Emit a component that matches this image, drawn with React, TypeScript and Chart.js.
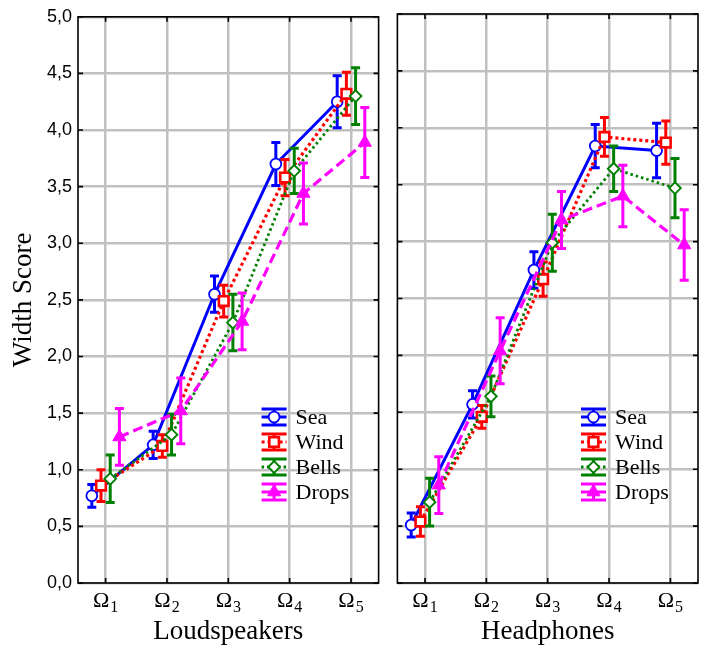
import React, { useEffect, useRef } from 'react';
import { Chart, registerables } from 'chart.js';

Chart.register(...registerables);

// ---------- data ----------
const categories = ['1', '2', '3', '4', '5']; // subscripts of Ω
const seriesNames = ['Sea', 'Wind', 'Bells', 'Drops'];
const yTickValues = [0, 0.5, 1, 1.5, 2, 2.5, 3, 3.5, 4, 4.5, 5];
const panelTitles = ['Loudspeakers', 'Headphones'];
const yTitle = 'Width Score';

const loudSea = [0.77, 1.22, 2.55, 3.7, 4.25];
const loudSeaErr = [0.1, 0.12, 0.16, 0.19, 0.23];
const loudWind = [0.86, 1.21, 2.49, 3.58, 4.32];
const loudWindErr = [0.14, 0.1, 0.14, 0.16, 0.19];
const loudBells = [0.92, 1.31, 2.3, 3.64, 4.3];
const loudBellsErr = [0.21, 0.18, 0.25, 0.2, 0.25];
const loudDrops = [1.29, 1.52, 2.31, 3.44, 3.89];
const loudDropsErr = [0.25, 0.29, 0.25, 0.27, 0.31];

const headSea = [0.51, 1.57, 2.75, 3.84, 3.8];
const headSeaErr = [0.105, 0.12, 0.16, 0.19, 0.24];
const headWind = [0.54, 1.46, 2.67, 3.92, 3.87];
const headWindErr = [0.13, 0.1, 0.15, 0.17, 0.19];
const headBells = [0.71, 1.64, 2.99, 3.64, 3.47];
const headBellsErr = [0.21, 0.18, 0.25, 0.2, 0.26];
const headDrops = [0.86, 2.04, 3.19, 3.4, 2.97];
const headDropsErr = [0.25, 0.29, 0.25, 0.27, 0.31];

// horizontal offset of each series inside a category
const seriesOffsets = [-0.225, -0.075, 0.075, 0.225];

// ---------- styles ----------
type Style = {
  color: string;
  dash: number[];
  lineWidth: number;
  pointStyle: string;
  radius: number;
  fill: string;
  pointBorder: number;
};

const styles: Style[] = [
  { color: '#0000ff', dash: [], lineWidth: 3, pointStyle: 'circle', radius: 5.4, fill: '#ffffff', pointBorder: 1.8 },
  { color: '#ff0000', dash: [3, 3], lineWidth: 3.2, pointStyle: 'rect', radius: 6.8, fill: '#ffffff', pointBorder: 2.6 },
  { color: '#008000', dash: [2.5, 3], lineWidth: 2.8, pointStyle: 'rectRot', radius: 5.8, fill: '#ffffff', pointBorder: 1.9 },
  { color: '#ff00ff', dash: [10, 5], lineWidth: 3.2, pointStyle: 'triangle', radius: 7.6, fill: '#ff00ff', pointBorder: 1 },
];

const SERIF = '"Liberation Serif", "DejaVu Serif", serif';
const SANS = '"Liberation Sans", Arial, sans-serif';
const GRID = '#c0c0c0';

function drawMarker(ctx: CanvasRenderingContext2D, st: Style, x: number, y: number) {
  const r = st.radius;
  ctx.save();
  ctx.setLineDash([]);
  ctx.beginPath();
  if (st.pointStyle === 'circle') {
    ctx.arc(x, y, r, 0, Math.PI * 2);
  } else if (st.pointStyle === 'rect') {
    const s = Math.SQRT1_2 * r;
    ctx.rect(x - s, y - s, 2 * s, 2 * s);
  } else if (st.pointStyle === 'rectRot') {
    ctx.moveTo(x - r, y);
    ctx.lineTo(x, y - r);
    ctx.lineTo(x + r, y);
    ctx.lineTo(x, y + r);
    ctx.closePath();
  } else {
    ctx.moveTo(x, y - r);
    ctx.lineTo(x + 0.866 * r, y + 0.5 * r);
    ctx.lineTo(x - 0.866 * r, y + 0.5 * r);
    ctx.closePath();
  }
  ctx.fillStyle = st.fill;
  ctx.fill();
  ctx.lineWidth = st.pointBorder;
  ctx.strokeStyle = st.color;
  ctx.stroke();
  ctx.restore();
}

function makeConfig(values: number[][], errors: number[][], title: string, isLeft: boolean): any {
  const datasets = values.map((vals, i) => {
    const st = styles[i];
    return {
      label: seriesNames[i],
      data: vals.map((v, j) => ({ x: j + 1 + seriesOffsets[i], y: v })),
      errorBars: errors[i],
      borderColor: st.color,
      backgroundColor: st.fill,
      borderWidth: st.lineWidth,
      borderDash: st.dash,
      pointStyle: st.pointStyle,
      pointRadius: st.radius,
      pointBorderWidth: st.pointBorder,
      pointBackgroundColor: st.fill,
      pointBorderColor: st.color,
      fill: false,
      tension: 0,
      order: 4 - i,
    };
  });

  const errorBarPlugin = {
    id: 'errorBars',
    beforeDatasetDraw(chart: any, args: any) {
      const ctx = chart.ctx;
      const ds = chart.data.datasets[args.index];
      const st = styles[args.index];
      const xs = chart.scales.x;
      const ys = chart.scales.y;
      ctx.save();
      ctx.strokeStyle = st.color;
      ctx.lineWidth = 3;
      ctx.setLineDash([]);
      ds.data.forEach((p: any, j: number) => {
        const e = ds.errorBars[j];
        const px = xs.getPixelForValue(p.x);
        const t = ys.getPixelForValue(p.y + e);
        const b = ys.getPixelForValue(p.y - e);
        ctx.beginPath();
        ctx.moveTo(px, t);
        ctx.lineTo(px, b);
        ctx.moveTo(px - 4.5, t);
        ctx.lineTo(px + 4.5, t);
        ctx.moveTo(px - 4.5, b);
        ctx.lineTo(px + 4.5, b);
        ctx.stroke();
      });
      ctx.restore();
    },
  };

  const framePlugin = {
    id: 'frame',
    beforeDatasetsDraw(chart: any) {
      const ctx = chart.ctx;
      const { left, right, top, bottom } = chart.chartArea;
      const xs = chart.scales.x;
      const ys = chart.scales.y;
      ctx.save();
      ctx.strokeStyle = '#000';
      ctx.lineWidth = 1.6;
      ctx.setLineDash([]);
      ctx.strokeRect(left, top, right - left, bottom - top);
      ctx.beginPath();
      yTickValues.forEach((v) => {
        const py = ys.getPixelForValue(v);
        ctx.moveTo(left, py);
        ctx.lineTo(left + 5, py);
        ctx.moveTo(right, py);
        ctx.lineTo(right - 5, py);
      });
      categories.forEach((_, i) => {
        const px = xs.getPixelForValue(i + 1);
        ctx.moveTo(px, top);
        ctx.lineTo(px, top + 5);
        ctx.moveTo(px, bottom);
        ctx.lineTo(px, bottom - 5);
      });
      ctx.stroke();
      ctx.restore();
    },
    afterDraw(chart: any) {
      const ctx = chart.ctx;
      const { bottom } = chart.chartArea;
      const xs = chart.scales.x;
      ctx.save();
      ctx.fillStyle = '#000';
      ctx.textBaseline = 'alphabetic';
      ctx.textAlign = 'left';
      categories.forEach((c, i) => {
        const px = xs.getPixelForValue(i + 1);
        ctx.font = `22px ${SERIF}`;
        const w1 = ctx.measureText('Ω').width;
        ctx.font = `16px ${SERIF}`;
        const w2 = ctx.measureText(c).width;
        const x0 = px - (w1 + w2 + 1) / 2;
        ctx.font = `22px ${SERIF}`;
        ctx.fillText('Ω', x0, bottom + 24);
        ctx.font = `16px ${SERIF}`;
        ctx.fillText(c, x0 + w1 + 1, bottom + 29);
      });
      ctx.restore();
    },
  };

  const legendPlugin = {
    id: 'customLegend',
    afterDatasetsDraw(chart: any) {
      const ctx = chart.ctx;
      const { right, bottom } = chart.chartArea;
      const gx = right - 117;
      const gw = 25;
      ctx.save();
      seriesNames.forEach((name, i) => {
        const st = styles[i];
        const cy = bottom - 166 + i * 25;
        const cx = gx + gw / 2;
        ctx.strokeStyle = st.color;
        ctx.setLineDash([]);
        ctx.lineWidth = 3;
        ctx.beginPath();
        ctx.moveTo(gx, cy - 8);
        ctx.lineTo(gx + gw, cy - 8);
        ctx.moveTo(gx, cy + 8);
        ctx.lineTo(gx + gw, cy + 8);
        ctx.moveTo(cx, cy - 8);
        ctx.lineTo(cx, cy + 8);
        ctx.stroke();
        ctx.lineWidth = st.lineWidth;
        ctx.setLineDash(st.dash);
        ctx.beginPath();
        ctx.moveTo(gx, cy);
        ctx.lineTo(gx + gw, cy);
        ctx.stroke();
        drawMarker(ctx, st, cx, cy);
        ctx.setLineDash([]);
        ctx.fillStyle = '#000';
        ctx.font = `22px ${SERIF}`;
        ctx.textBaseline = 'middle';
        ctx.textAlign = 'left';
        ctx.fillText(name, gx + 34, cy + 1);
      });
      ctx.restore();
    },
  };

  return {
    type: 'line',
    data: { datasets },
    plugins: [errorBarPlugin, framePlugin, legendPlugin],
    options: {
      responsive: false,
      animation: false,
      layout: { padding: isLeft ? { left: 0, right: 4, top: 14, bottom: 0 } : { left: 4, right: 22, top: 14, bottom: 0 } },
      plugins: { legend: { display: false }, tooltip: { enabled: false } },
      scales: {
        x: {
          type: 'linear',
          min: 0.55,
          max: 5.45,
          afterBuildTicks: (s: any) => {
            s.ticks = categories.map((_, i) => ({ value: i + 1 }));
          },
          afterFit: (s: any) => {
            s.height = 67;
          },
          ticks: { display: false },
          grid: { color: GRID, lineWidth: 2.5, drawTicks: false },
          border: { display: false },
          title: {
            display: true,
            text: title,
            color: '#000',
            font: { family: SERIF, size: 27, weight: 'normal' },
            padding: { top: 0, bottom: 2 },
          },
        },
        y: {
          type: 'linear',
          min: 0,
          max: 5,
          afterBuildTicks: (s: any) => {
            s.ticks = yTickValues.map((v) => ({ value: v }));
          },
          afterFit: (s: any) => {
            s.width = isLeft ? 78 : 0;
          },
          ticks: {
            display: isLeft,
            color: '#000',
            padding: 6,
            font: { family: SANS, size: 18 },
            callback: (v: number) => v.toFixed(1).replace('.', ','),
          },
          grid: { color: GRID, lineWidth: 2.5, drawTicks: false },
          border: { display: false },
          title: {
            display: isLeft,
            text: yTitle,
            color: '#000',
            font: { family: SERIF, size: 27, weight: 'normal' },
            padding: { top: 8, bottom: 0 },
          },
        },
      },
    },
  };
}

export default function App() {
  const leftRef = useRef<HTMLCanvasElement>(null);
  const rightRef = useRef<HTMLCanvasElement>(null);

  useEffect(() => {
    const c1 = new Chart(
      leftRef.current as HTMLCanvasElement,
      makeConfig(
        [loudSea, loudWind, loudBells, loudDrops],
        [loudSeaErr, loudWindErr, loudBellsErr, loudDropsErr],
        panelTitles[0],
        true
      )
    );
    const c2 = new Chart(
      rightRef.current as HTMLCanvasElement,
      makeConfig(
        [headSea, headWind, headBells, headDrops],
        [headSeaErr, headWindErr, headBellsErr, headDropsErr],
        panelTitles[1],
        false
      )
    );
    return () => {
      c1.destroy();
      c2.destroy();
    };
  }, []);

  return (
    <div style={{ position: 'fixed', left: 0, top: 0, width: 720, height: 650, background: '#fff' }}>
      <canvas ref={leftRef} width={388} height={650} style={{ position: 'absolute', left: 0, top: 0, width: 388, height: 650 }} />
      <canvas ref={rightRef} width={332} height={650} style={{ position: 'absolute', left: 388, top: 0, width: 332, height: 650 }} />
    </div>
  );
}
